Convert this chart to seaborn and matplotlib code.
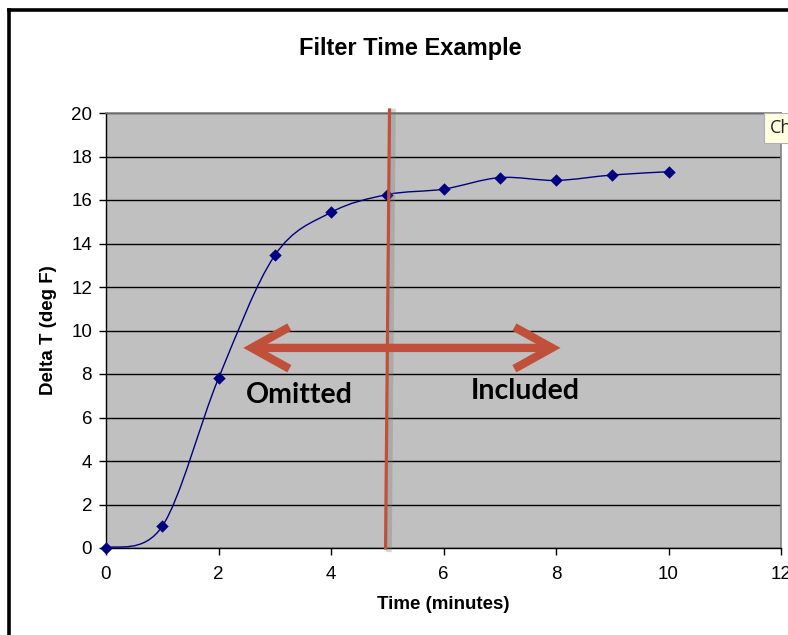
import numpy as np
import pandas as pd
import matplotlib
matplotlib.use('Agg')
import matplotlib.pyplot as plt
import seaborn as sns
from matplotlib.path import Path
from matplotlib.patches import PathPatch, FancyArrowPatch
from matplotlib.lines import Line2D
import matplotlib.patheffects as pe

# data
time_min = [0, 1, 2, 3, 4, 5, 6, 7, 8, 9, 10]
delta_t = [0.0, 1.0, 7.8, 13.45, 15.43, 16.25, 16.5, 17.03, 16.9, 17.15, 17.3]

x_ticks = [0, 2, 4, 6, 8, 10, 12]
y_ticks = [0, 2, 4, 6, 8, 10, 12, 14, 16, 18, 20]

cutoff_bottom = (4.97, 0)
cutoff_top = (5.04, 20.14)
arrow_left, arrow_right, arrow_y = 2.44, 8.08, 9.2

plt.rcParams.update({
    'font.family': ['Liberation Sans', 'DejaVu Sans'],
    'font.size': 12,
})

df = pd.DataFrame({'time': time_min, 'dt': delta_t})

fig = plt.figure(figsize=(7.88, 6.35), dpi=100)
ax = fig.add_axes([106 / 788, 87 / 635, 675 / 788, 435 / 635])
ax.set_facecolor('#C0C0C0')


def smooth_path(xs, ys):
    # excel-like smoothed line: cubic bezier through every point
    pts = np.column_stack([xs, ys]).astype(float)
    n = len(pts)
    verts = [pts[0]]
    codes = [Path.MOVETO]
    for i in range(n - 1):
        p0 = pts[max(i - 1, 0)]
        p1 = pts[i]
        p2 = pts[i + 1]
        p3 = pts[min(i + 2, n - 1)]
        verts += [p1 + (p2 - p0) / 6, p2 - (p3 - p1) / 6, p2]
        codes += [Path.CURVE4] * 3
    return Path(verts, codes)


ax.add_patch(PathPatch(smooth_path(df['time'], df['dt']), fill=False,
                       edgecolor='#000080', linewidth=1.0, zorder=4))
sns.scatterplot(data=df, x='time', y='dt', marker='D', s=40, color='#000080',
                edgecolor='#000080', linewidth=0, ax=ax, zorder=5, clip_on=False)

ax.set_xlim(0, 12)
ax.set_ylim(0, 20)
ax.set_xticks(x_ticks)
ax.set_yticks(y_ticks)
ax.tick_params(direction='out', length=5, width=1, color='black', labelsize=13.5)
ax.tick_params(axis='y', pad=5)
ax.tick_params(axis='x', pad=8)
ax.grid(axis='y', color='black', linewidth=1)
ax.set_axisbelow(True)
for s in ['left', 'bottom']:
    ax.spines[s].set_color('black')
    ax.spines[s].set_linewidth(1)
for s in ['top', 'right']:
    ax.spines[s].set_color('#808080')
    ax.spines[s].set_linewidth(1.2)

ax.set_xlabel('Time (minutes)', fontsize=13.5, fontweight='bold', labelpad=9)
ax.set_ylabel('Delta T (deg F)', fontsize=13.5, fontweight='bold', labelpad=10)
fig.text(410 / 788, 1 - 48 / 635, 'Filter Time Example', ha='center', va='center',
         fontsize=17, fontweight='bold')

# hand-drawn cutoff line with a soft shadow
ax.plot([cutoff_bottom[0], cutoff_top[0]], [cutoff_bottom[1], cutoff_top[1]],
        color='#C0503A', linewidth=2.3, clip_on=False, zorder=6,
        path_effects=[pe.SimpleLineShadow(offset=(2.5, -1), shadow_color='#7a7a7a',
                                          alpha=0.3, linewidth=4),
                      pe.Normal()])

arrow = FancyArrowPatch((arrow_left, arrow_y), (arrow_right, arrow_y),
                        arrowstyle='<->,head_length=2.25,head_width=1.25',
                        mutation_scale=12, color='#C0503A', linewidth=6,
                        shrinkA=0, shrinkB=0,
                        capstyle='butt', joinstyle='miter', zorder=7)
ax.add_patch(arrow)

ax.text(3.43, 7.03, 'Omitted', family=['Lato', 'DejaVu Sans'], fontweight='bold',
        fontsize=20.5, ha='center', va='center', zorder=8)
ax.text(7.45, 7.22, 'Included', family=['Lato', 'DejaVu Sans'], fontweight='bold',
        fontsize=20.5, ha='center', va='center', zorder=8)

# tooltip stub at the right edge
fig.text(770 / 788, 1 - 128 / 635, 'Ch', family=['Open Sans', 'DejaVu Sans'],
         fontsize=13, ha='left', va='center', color='#222222',
         bbox=dict(boxstyle='square,pad=0.35', facecolor='#FFFFE1', edgecolor='#B0B0B0',
                   linewidth=0.8))

# window frame of the screenshot
fig.add_artist(Line2D([8.5 / 788, 8.5 / 788], [0, 1 - 9.5 / 635], color='black',
                      linewidth=2.6, solid_capstyle='projecting'))
fig.add_artist(Line2D([8.5 / 788, 1], [1 - 9.5 / 635, 1 - 9.5 / 635], color='black',
                      linewidth=2.6, solid_capstyle='projecting'))

fig.savefig('out.png', dpi=100)
